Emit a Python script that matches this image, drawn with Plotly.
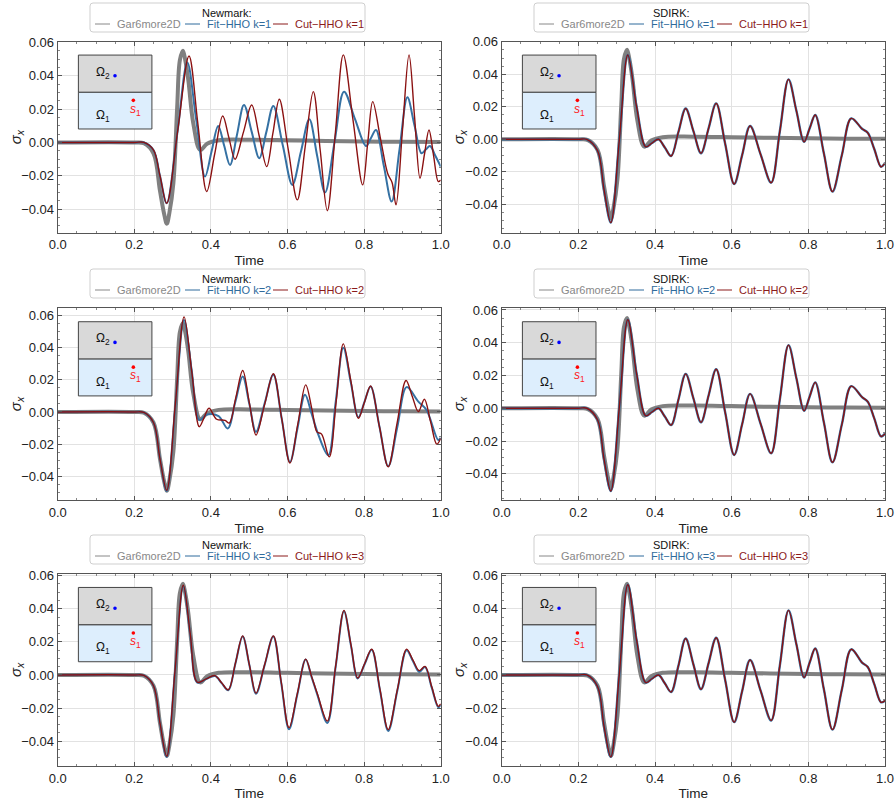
import plotly.graph_objects as go

# ---------------- data ----------------
# Gar6more2D analytical reference (identical in every panel)
gar_t = [0.0, 0.2, 0.225, 0.25, 0.267, 0.2775, 0.285, 0.2915, 0.302, 0.312, 0.319, 0.327, 0.333, 0.341, 0.354, 0.372,
         0.39, 0.42, 0.5, 0.6, 0.7, 0.8, 0.9, 1.0]
gar_v = [0, 0, -0.0005, -0.0065, -0.029, -0.0425, -0.0488, -0.0425, -0.0245, 0.0215, 0.0495, 0.0551, 0.0495, 0.0375,
         0.0115, -0.0045, -0.0008, 0.0013, 0.0016, 0.0013, 0.0009, 0.0006, 0.0004, 0.0003]

# Newmark k=1
nm1_fit_t = [0.0, 0.2, 0.225, 0.25, 0.267, 0.2846, 0.312, 0.3384, 0.3615, 0.3846, 0.4018, 0.419, 0.4345, 0.4499, 0.468,
             0.4864, 0.5064, 0.5264, 0.5447, 0.563, 0.5878, 0.6126, 0.6348, 0.657, 0.6775, 0.698, 0.7228, 0.7475, 0.776,
             0.805, 0.818, 0.831, 0.8515, 0.872, 0.8925, 0.913, 0.9315, 0.95, 0.961, 0.972, 0.986, 1.0]
nm1_fit_v = [0, 0, 0, -0.0045, -0.02, -0.0365, 0.005, 0.048, 0.0138, -0.0205, -0.0053, 0.0099, -0.0018, -0.0135, 0.0045,
             0.0225, 0.0065, -0.0095, 0.0062, 0.0219, -0.0018, -0.0255, -0.0058, 0.0139, -0.0081, -0.0301, 0.0002, 0.0305,
             0.0142, -0.0021, 0.0027, 0.0075, -0.014, -0.0355, -0.0042, 0.0271, 0.0103, -0.0065, -0.0043, -0.0021, -0.008, -0.0145]
nm1_cut_t = [0.0, 0.2, 0.225, 0.25, 0.267, 0.2846, 0.3137, 0.3428, 0.366, 0.389, 0.41, 0.4308, 0.447, 0.463, 0.485, 0.5065,
             0.526, 0.5457, 0.562, 0.5786, 0.602, 0.6256, 0.6465, 0.6674, 0.6857, 0.704, 0.725, 0.7457, 0.771, 0.7963,
             0.8094, 0.8225, 0.843, 0.862, 0.873, 0.8833, 0.9003, 0.9173, 0.9317, 0.946, 0.9577, 0.9694, 0.9815, 0.9937, 1.0]
nm1_cut_v = [0, 0, 0, -0.0045, -0.02, -0.0365, 0.0077, 0.0519, 0.0112, -0.0295, -0.0068, 0.0159, 0.0029, -0.0101, 0.0062,
             0.0225, 0.004, -0.0145, 0.0057, 0.0259, -0.0043, -0.0345, -0.002, 0.0305, -0.0053, -0.041, 0.0058, 0.0526,
             0.0136, -0.0255, -0.0005, 0.0245, 0.002, -0.019, -0.024, -0.0375, 0.0076, 0.0526, 0.0155, -0.0215, -0.007,
             0.0075, -0.008, -0.0235, -0.0225]

# Newmark k=2
nm2_fit_t = [0.0, 0.2, 0.225, 0.25, 0.267, 0.2846, 0.3072, 0.3298, 0.3497, 0.3697, 0.39, 0.42, 0.4439, 0.4635, 0.483,
             0.5004, 0.5178, 0.5404, 0.563, 0.5848, 0.6065, 0.626, 0.6457, 0.663, 0.68, 0.7066, 0.726, 0.7457, 0.7654,
             0.785, 0.801, 0.817, 0.84, 0.863, 0.887, 0.911, 0.9417, 0.963, 0.9937, 1.0]
nm2_fit_v = [0, 0, -0.0003, -0.0065, -0.029, -0.049, 0.004, 0.0569, 0.026, -0.005, -0.0015, -0.0025, -0.0102, 0.006, 0.022,
             0.0049, -0.0123, 0.0054, 0.023, -0.004, -0.031, -0.0102, 0.0106, -0.001, -0.0137, -0.0268, 0.0065, 0.0397,
             0.0182, -0.0033, 0.0063, 0.0158, -0.009, -0.0336, -0.009, 0.0154, 0.0064, 0.0012, -0.0174, -0.016]
nm2_cut_t = [0.0, 0.2, 0.225, 0.25, 0.267, 0.2846, 0.3072, 0.33, 0.35, 0.3697, 0.3823, 0.395, 0.415, 0.437, 0.448, 0.4655,
             0.483, 0.5004, 0.5178, 0.5404, 0.563, 0.5848, 0.6065, 0.627, 0.6475, 0.664, 0.677, 0.689, 0.709, 0.7274,
             0.7457, 0.7654, 0.785, 0.801, 0.817, 0.84, 0.863, 0.886, 0.9095, 0.9256, 0.9417, 0.9574, 0.9735, 0.9896, 1.0]
nm2_cut_v = [0, 0, -0.0003, -0.0065, -0.029, -0.0485, 0.005, 0.0589, 0.025, -0.0091, -0.0035, 0.0023, -0.0045, -0.0052,
             -0.0069, 0.0094, 0.0257, 0.0057, -0.0143, 0.0047, 0.0237, -0.004, -0.0316, -0.0074, 0.0168, 0.0015, -0.0123,
             -0.0137, -0.0278, 0.0072, 0.0422, 0.0192, -0.0039, 0.0061, 0.0161, -0.009, -0.034, -0.007, 0.0195, 0.0098,
             0.0002, 0.0079, -0.006, -0.0199, -0.0164]

# Newmark k=3
nm3_t = [0.0, 0.2, 0.225, 0.25, 0.267, 0.2846, 0.3063, 0.328, 0.346, 0.3645, 0.3876, 0.4107, 0.428, 0.4454, 0.4642, 0.483,
         0.5004, 0.5178, 0.5404, 0.563, 0.5835, 0.604, 0.6258, 0.6475, 0.663, 0.678, 0.704, 0.7258, 0.7475, 0.7654,
         0.7833, 0.8016, 0.8198, 0.8414, 0.863, 0.887, 0.911, 0.9275, 0.944, 0.959, 0.9764, 0.9937, 1.0]
nm3_cut_v = [0, 0, -0.0003, -0.0065, -0.029, -0.0491, 0.0025, 0.0542, 0.025, -0.0044, -0.0024, -0.0004, -0.0047, -0.009,
             0.0073, 0.0236, 0.0063, -0.011, 0.0063, 0.0236, -0.0041, -0.0318, -0.0111, 0.0096, -0.001, -0.0114, -0.0279,
             0.0055, 0.039, 0.0186, -0.0018, 0.0069, 0.0156, -0.0087, -0.033, -0.0087, 0.0156, 0.009, 0.0026, 0.0052,
             -0.007, -0.019, -0.0175]
nm3_fit_v = [0, 0, -0.0003, -0.0065, -0.029, -0.0495, 0.0022, 0.0535, 0.0245, -0.0046, -0.0025, -0.0006, -0.0049, -0.0092,
             0.0071, 0.0233, 0.006, -0.0113, 0.006, 0.0233, -0.0046, -0.0328, -0.0116, 0.0093, -0.0013, -0.012, -0.029,
             0.005, 0.0385, 0.0182, -0.0021, 0.0066, 0.0153, -0.0092, -0.0338, -0.0092, 0.015, 0.0084, 0.0018, 0.0048,
             -0.0075, -0.0195, -0.018]

# SDIRK (Fit-HHO and Cut-HHO coincide)
sd_t = [0.0, 0.2, 0.222, 0.25, 0.267, 0.2846, 0.307, 0.329, 0.352, 0.376, 0.392, 0.409, 0.4255, 0.442, 0.461, 0.48, 0.5,
        0.52, 0.5398, 0.5595, 0.583, 0.6065, 0.6273, 0.648, 0.6755, 0.703, 0.7257, 0.7483, 0.7687, 0.789, 0.8035, 0.818,
        0.8405, 0.863, 0.8875, 0.912, 0.94, 0.955, 0.972, 0.9896, 1.0]
sd1_v = [0, 0, 0, -0.007, -0.031, -0.0513, 0.0, 0.0519, 0.02, -0.0046, -0.0023, 0.0, -0.005, -0.0103, 0.0044, 0.019, 0.0052,
         -0.0086, 0.0068, 0.0221, -0.0027, -0.0275, -0.0097, 0.0082, -0.0093, -0.0267, 0.0051, 0.0369, 0.0177, -0.0015,
         0.0068, 0.015, -0.0086, -0.0322, -0.0097, 0.0129, 0.0065, 0.004, -0.006, -0.0169, -0.0145]
sd2_v = [0, 0, 0, -0.007, -0.031, -0.0505, 0.001, 0.054, 0.021, -0.0046, -0.0023, 0.0, -0.005, -0.0103, 0.0052, 0.021, 0.0062,
         -0.0086, 0.0078, 0.0238, -0.0025, -0.0285, -0.0098, 0.0088, -0.0095, -0.0275, 0.0055, 0.0385, 0.0185, -0.0015,
         0.0072, 0.0158, -0.0086, -0.033, -0.0098, 0.0135, 0.0068, 0.004, -0.0062, -0.0172, -0.0155]
sd3_v = [0, 0, 0, -0.007, -0.031, -0.0495, 0.001, 0.0545, 0.021, -0.0046, -0.0023, 0.0, -0.005, -0.0103, 0.0055, 0.022, 0.0065,
         -0.0086, 0.0072, 0.0225, -0.003, -0.0285, -0.0098, 0.009, -0.0095, -0.0275, 0.0058, 0.039, 0.0187, -0.0015,
         0.0075, 0.016, -0.0086, -0.033, -0.0088, 0.0155, 0.0075, 0.0048, -0.0055, -0.0165, -0.0155]

series_names = ["Gar6more2D", "Fit\u2212HHO k={k}", "Cut\u2212HHO k={k}"]

# panel content: (method, k, fit curve, cut curve)
panel_data = [
    ("Newmark", 1, (nm1_fit_t, nm1_fit_v), (nm1_cut_t, nm1_cut_v)),
    ("SDIRK", 1, (sd_t, sd1_v), (sd_t, sd1_v)),
    ("Newmark", 2, (nm2_fit_t, nm2_fit_v), (nm2_cut_t, nm2_cut_v)),
    ("SDIRK", 2, (sd_t, sd2_v), (sd_t, sd2_v)),
    ("Newmark", 3, (nm3_t, nm3_fit_v), (nm3_t, nm3_cut_v)),
    ("SDIRK", 3, (sd_t, sd3_v), (sd_t, sd3_v)),
]

# ---------------- layout / style ----------------
W, H = 896, 801
FONT = "Liberation Sans, Arial, sans-serif"
GRAY, BLUE, RED = "#808080", "#3571a3", "#8b1111"
LEG_COL = ["#888888", "#2f6b9c", "#8b1a1a"]
FRAME = "#555555"

col_px = [(57.7, 440.7), (501.7, 885.0)]
row_px = [(41.7, 232.7), (308.3, 500.0), (574.0, 766.0)]
yranges = [[-0.0542, 0.0605], [-0.0575, 0.0601],
           [-0.0545, 0.0642], [-0.056, 0.061],
           [-0.055, 0.061], [-0.055, 0.061]]
legend_left = [90, 534]
legend_top = [3, 269, 535]
ytitle_x = [16, 459]


def px(x):
    return x / W


def py(y):
    return 1 - y / H


def rounded_box(x0, y0, x1, y1, rad=3):
    # x/y in pixels (y downwards); returns an SVG path in paper fractions
    X0, X1, Y0, Y1 = px(x0), px(x1), py(y1), py(y0)
    rx, ry = rad / W, rad / H
    return (f"M {X0 + rx},{Y1} L {X1 - rx},{Y1} Q {X1},{Y1} {X1},{Y1 - ry} "
            f"L {X1},{Y0 + ry} Q {X1},{Y0} {X1 - rx},{Y0} L {X0 + rx},{Y0} "
            f"Q {X0},{Y0} {X0},{Y0 + ry} L {X0},{Y1 - ry} Q {X0},{Y1} {X0 + rx},{Y1} Z")


fig = go.Figure()
layout = dict(width=W, height=H, autosize=False,
              margin=dict(l=0, r=0, t=0, b=0, pad=0, autoexpand=False),
              paper_bgcolor="white", plot_bgcolor="white", showlegend=False,
              font=dict(family=FONT, color="#111"), shapes=[], annotations=[])

for i, (method, k, fit, cut) in enumerate(panel_data):
    n = i + 1
    r, c = divmod(i, 2)
    sfx = "" if n == 1 else str(n)
    xa, ya = "x" + sfx, "y" + sfx
    names = [s.format(k=k) for s in series_names]

    fig.add_trace(go.Scatter(x=gar_t, y=gar_v, mode="lines", xaxis=xa, yaxis=ya, name=names[0],
                             line=dict(color=GRAY, width=4, shape="spline", smoothing=1), hoverinfo="skip"))
    fig.add_trace(go.Scatter(x=fit[0], y=fit[1], mode="lines", xaxis=xa, yaxis=ya, name=names[1],
                             line=dict(color=BLUE, width=2.4 if method == "SDIRK" else 2, shape="spline", smoothing=1),
                             hoverinfo="skip"))
    fig.add_trace(go.Scatter(x=cut[0], y=cut[1], mode="lines", xaxis=xa, yaxis=ya, name=names[2],
                             line=dict(color=RED, width=1.4, shape="spline", smoothing=1), hoverinfo="skip"))

    x0, x1 = col_px[c]
    y0, y1 = row_px[r]
    common = dict(showline=True, linecolor=FRAME, linewidth=1, mirror="ticks", ticks="inside", ticklen=4,
                  tickcolor=FRAME, showgrid=True, gridcolor="#e2e2e2", gridwidth=1, zeroline=False,
                  tickfont=dict(size=13, color="#222"), fixedrange=True)
    layout["xaxis" + sfx] = dict(
        domain=[px(x0), px(x1)], anchor=ya, range=[0, 1], dtick=0.2, tickformat=".1f",
        minor=dict(ticks="inside", ticklen=2, dtick=0.05, tickcolor="#888", showgrid=False),
        title=dict(text="Time", font=dict(size=13.5, color="#222"), standoff=4), **common)
    layout["yaxis" + sfx] = dict(
        domain=[py(y1), py(y0)], anchor=xa, range=yranges[i], dtick=0.02, tickformat=".2f",
        minor=dict(ticks="inside", ticklen=2, dtick=0.005, tickcolor="#888", showgrid=False),
        **common)
    # y-axis title placed as a rotated annotation (exact position of the reference)
    layout["annotations"].append(dict(xref="paper", yref="paper", x=px(ytitle_x[c]), y=py((y0 + y1) / 2),
                                      text="<i>\u03c3</i><sub><i>x</i></sub>", showarrow=False, textangle=-90,
                                      xanchor="center", yanchor="middle", font=dict(size=15, color="#222")))

    # legend box (drawn manually to match the compact reference legend)
    lx, ly = legend_left[c], legend_top[r]
    layout["shapes"].append(dict(type="path", xref="paper", yref="paper",
                                 path=rounded_box(lx, ly, lx + 275, ly + 29), fillcolor="white",
                                 line=dict(color="#cfcfcf", width=1), layer="above"))
    layout["annotations"].append(dict(xref="paper", yref="paper", x=px(lx + 137), y=py(ly + 9.5),
                                      text=f"{method}:", showarrow=False, xanchor="center", yanchor="middle",
                                      font=dict(size=11, color="#111")))
    for j, (nm, col) in enumerate(zip(names, LEG_COL)):
        sx = lx + [5, 95, 183][j]
        layout["shapes"].append(dict(type="line", xref="paper", yref="paper", x0=px(sx), x1=px(sx + 15),
                                     y0=py(ly + 21), y1=py(ly + 21), line=dict(color=col, width=1),
                                     layer="above"))
        layout["annotations"].append(dict(xref="paper", yref="paper", x=px(sx + 20), y=py(ly + 21),
                                          text=nm, showarrow=False, xanchor="left", yanchor="middle",
                                          font=dict(size=11, color=col)))

    # inset sketch of the domain
    xr, yr = xa + " domain", ya + " domain"
    layout["shapes"] += [
        dict(type="rect", xref=xr, yref=yr, x0=0.054, x1=0.246, y0=0.735, y1=0.93,
             fillcolor="#d9d9d9", line=dict(color="#444", width=1), layer="above"),
        dict(type="rect", xref=xr, yref=yr, x0=0.054, x1=0.246, y0=0.543, y1=0.735,
             fillcolor="#ddeefd", line=dict(color="#444", width=1), layer="above"),
        dict(type="circle", xref=xr, yref=yr, xsizemode="pixel", ysizemode="pixel",
             xanchor=0.1496, yanchor=0.822, x0=-1.8, x1=1.8, y0=-1.8, y1=1.8,
             fillcolor="#0000ff", line=dict(width=0), layer="above"),
        dict(type="circle", xref=xr, yref=yr, xsizemode="pixel", ysizemode="pixel",
             xanchor=0.1975, yanchor=0.693, x0=-1.8, x1=1.8, y0=-1.8, y1=1.8,
             fillcolor="#ff0000", line=dict(width=0), layer="above"),
    ]
    layout["annotations"] += [
        dict(xref=xr, yref=yr, x=0.1175, y=0.838, text="\u03a9<sub>2</sub>", showarrow=False,
             xanchor="center", yanchor="middle", font=dict(size=12, color="#111")),
        dict(xref=xr, yref=yr, x=0.1175, y=0.612, text="\u03a9<sub>1</sub>", showarrow=False,
             xanchor="center", yanchor="middle", font=dict(size=12, color="#111")),
        dict(xref=xr, yref=yr, x=0.203, y=0.645, text="<i>s</i><sub>1</sub>", showarrow=False,
             xanchor="center", yanchor="middle", font=dict(size=12, color="#ff2020")),
    ]

fig.update_layout(**layout)
# remove the browser's default 8px page margin so the figure sits at the window origin
fig.write_html("out.html", config={"displayModeBar": False},
               post_script="document.body.style.margin='0px';")
